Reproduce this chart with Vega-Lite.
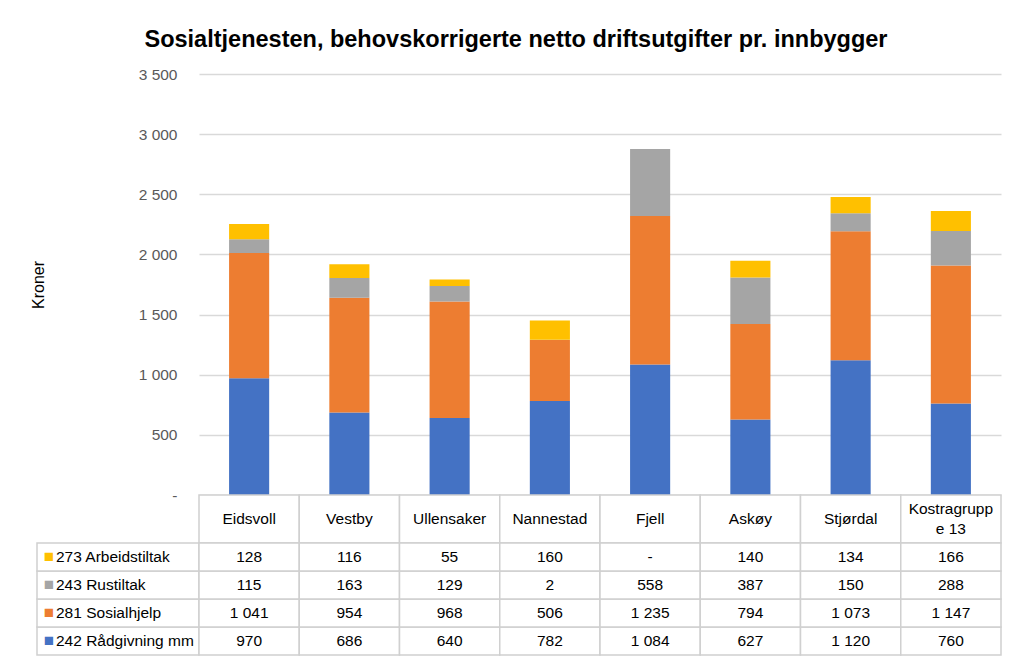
{
  "$schema": "https://vega.github.io/schema/vega-lite/v6.json",
  "background": "white",
  "padding": {"left": 30, "top": 27, "right": 24, "bottom": 12},
  "title": {"text": "Sosialtjenesten, behovskorrigerte netto driftsutgifter pr. innbygger", "fontSize": 23.5, "fontWeight": "bold", "color": "black", "anchor": "middle", "offset": 16},
  "datasets": {
    "main": [
      {"kommune": "Eidsvoll", "post": "242 Rådgivning mm", "value": 970},
      {"kommune": "Eidsvoll", "post": "281 Sosialhjelp", "value": 1041},
      {"kommune": "Eidsvoll", "post": "243 Rustiltak", "value": 115},
      {"kommune": "Eidsvoll", "post": "273 Arbeidstiltak", "value": 128},
      {"kommune": "Vestby", "post": "242 Rådgivning mm", "value": 686},
      {"kommune": "Vestby", "post": "281 Sosialhjelp", "value": 954},
      {"kommune": "Vestby", "post": "243 Rustiltak", "value": 163},
      {"kommune": "Vestby", "post": "273 Arbeidstiltak", "value": 116},
      {"kommune": "Ullensaker", "post": "242 Rådgivning mm", "value": 640},
      {"kommune": "Ullensaker", "post": "281 Sosialhjelp", "value": 968},
      {"kommune": "Ullensaker", "post": "243 Rustiltak", "value": 129},
      {"kommune": "Ullensaker", "post": "273 Arbeidstiltak", "value": 55},
      {"kommune": "Nannestad", "post": "242 Rådgivning mm", "value": 782},
      {"kommune": "Nannestad", "post": "281 Sosialhjelp", "value": 506},
      {"kommune": "Nannestad", "post": "243 Rustiltak", "value": 2},
      {"kommune": "Nannestad", "post": "273 Arbeidstiltak", "value": 160},
      {"kommune": "Fjell", "post": "242 Rådgivning mm", "value": 1084},
      {"kommune": "Fjell", "post": "281 Sosialhjelp", "value": 1235},
      {"kommune": "Fjell", "post": "243 Rustiltak", "value": 558},
      {"kommune": "Fjell", "post": "273 Arbeidstiltak", "value": 0},
      {"kommune": "Askøy", "post": "242 Rådgivning mm", "value": 627},
      {"kommune": "Askøy", "post": "281 Sosialhjelp", "value": 794},
      {"kommune": "Askøy", "post": "243 Rustiltak", "value": 387},
      {"kommune": "Askøy", "post": "273 Arbeidstiltak", "value": 140},
      {"kommune": "Stjørdal", "post": "242 Rådgivning mm", "value": 1120},
      {"kommune": "Stjørdal", "post": "281 Sosialhjelp", "value": 1073},
      {"kommune": "Stjørdal", "post": "243 Rustiltak", "value": 150},
      {"kommune": "Stjørdal", "post": "273 Arbeidstiltak", "value": 134},
      {"kommune": "Kostragruppe 13", "post": "242 Rådgivning mm", "value": 760},
      {"kommune": "Kostragruppe 13", "post": "281 Sosialhjelp", "value": 1147},
      {"kommune": "Kostragruppe 13", "post": "243 Rustiltak", "value": 288},
      {"kommune": "Kostragruppe 13", "post": "273 Arbeidstiltak", "value": 166}
    ]
  },
  "columns": 2,
  "spacing": 0,
  "bounds": "flush",
  "resolve": {"scale": {"x": "independent", "y": "independent"}},
  "concat": [
    {
      "width": 162, "height": 421,
      "data": {"values": []},
      "mark": {"type": "point", "opacity": 0}
    },
    {
      "width": 802, "height": 421,
      "data": {"name": "main"},
      "transform": [{"calculate": "indexof(['242 Rådgivning mm','281 Sosialhjelp','243 Rustiltak','273 Arbeidstiltak'], datum.post)", "as": "ord"}],
      "mark": {"type": "bar"},
      "encoding": {
        "x": {"field": "kommune", "type": "nominal", "sort": null, "axis": null, "scale": {"paddingInner": 0.6, "paddingOuter": 0.3}},
        "y": {"field": "value", "type": "quantitative", "stack": "zero", "scale": {"domain": [0, 3500], "nice": false},
          "axis": {"values": [0, 500, 1000, 1500, 2000, 2500, 3000, 3500], "labelExpr": "datum.value == 0 ? '-\u00a0\u00a0' : replace(format(datum.value, ','), ',', ' ')", "grid": true, "gridColor": "#d9d9d9", "gridWidth": 1.5, "domain": false, "ticks": false, "labelPadding": 22, "labelFontSize": 15.5, "labelColor": "#595959", "title": "Kroner", "titleFontSize": 16, "titleFontWeight": "normal", "titleColor": "black", "titlePadding": 92}},
        "color": {"field": "post", "type": "nominal", "scale": {"domain": ["242 Rådgivning mm", "281 Sosialhjelp", "243 Rustiltak", "273 Arbeidstiltak"], "range": ["#4472C4", "#ED7D31", "#A5A5A5", "#FFC000"]}, "legend": null},
        "order": {"field": "ord", "type": "quantitative"}
      }
    },
    {
      "width": 162, "height": 48,
      "data": {"values": []},
      "mark": {"type": "point", "opacity": 0}
    },
    {
      "width": 802, "height": 48,
      "data": {"name": "main"},
      "transform": [
        {"filter": "datum.post == '242 Rådgivning mm'"}
      ],
      "encoding": {"x": {"field": "kommune", "type": "nominal", "sort": null, "axis": null, "scale": {"paddingInner": 0, "paddingOuter": 0}}},
      "layer": [
        {"mark": {"type": "rect", "fill": "white", "stroke": "#d0d0d0", "strokeWidth": 1.5}},
        {"transform": [{"filter": "datum.kommune != 'Kostragruppe 13'"}], "mark": {"type": "text", "fontSize": 15.5, "color": "black"}, "encoding": {"text": {"field": "kommune"}}},
        {"transform": [{"filter": "datum.kommune == 'Kostragruppe 13'"}, {"calculate": "['Kostragrupp', 'e 13']", "as": "label"}], "mark": {"type": "text", "fontSize": 15.5, "color": "black", "lineHeight": 20, "baseline": "middle", "dy": -10}, "encoding": {"text": {"field": "label"}}}
      ]
    },
    {
      "width": 162, "height": 112,
      "data": {"name": "main"},
      "transform": [{"filter": "datum.kommune == 'Eidsvoll'"}],
      "encoding": {"y": {"field": "post", "type": "nominal", "sort": ["273 Arbeidstiltak", "243 Rustiltak", "281 Sosialhjelp", "242 Rådgivning mm"], "axis": null, "scale": {"paddingInner": 0, "paddingOuter": 0}}},
      "layer": [
        {"mark": {"type": "rect", "fill": "white", "stroke": "#d0d0d0", "strokeWidth": 1.5}},
        {"mark": {"type": "text", "text": "■", "fontSize": 17, "dx": -69}, "encoding": {"color": {"field": "post", "type": "nominal", "scale": {"domain": ["242 Rådgivning mm", "281 Sosialhjelp", "243 Rustiltak", "273 Arbeidstiltak"], "range": ["#4472C4", "#ED7D31", "#A5A5A5", "#FFC000"]}, "legend": null}}},
        {"mark": {"type": "text", "align": "left", "dx": -62, "fontSize": 15.5, "color": "black"}, "encoding": {"text": {"field": "post"}}}
      ]
    },
    {
      "width": 802, "height": 112,
      "data": {"name": "main"},
      "transform": [{"calculate": "datum.value == 0 ? '-' : replace(format(datum.value, ','), ',', ' ')", "as": "disp"}],
      "encoding": {
        "x": {"field": "kommune", "type": "nominal", "sort": null, "axis": null, "scale": {"paddingInner": 0, "paddingOuter": 0}},
        "y": {"field": "post", "type": "nominal", "sort": ["273 Arbeidstiltak", "243 Rustiltak", "281 Sosialhjelp", "242 Rådgivning mm"], "axis": null, "scale": {"paddingInner": 0, "paddingOuter": 0}}
      },
      "layer": [
        {"mark": {"type": "rect", "fill": "white", "stroke": "#d0d0d0", "strokeWidth": 1.5}},
        {"mark": {"type": "text", "fontSize": 15.5, "color": "black"}, "encoding": {"text": {"field": "disp"}}}
      ]
    }
  ],
  "config": {
    "view": {"stroke": null},
    "font": "Liberation Sans"
  }
}
